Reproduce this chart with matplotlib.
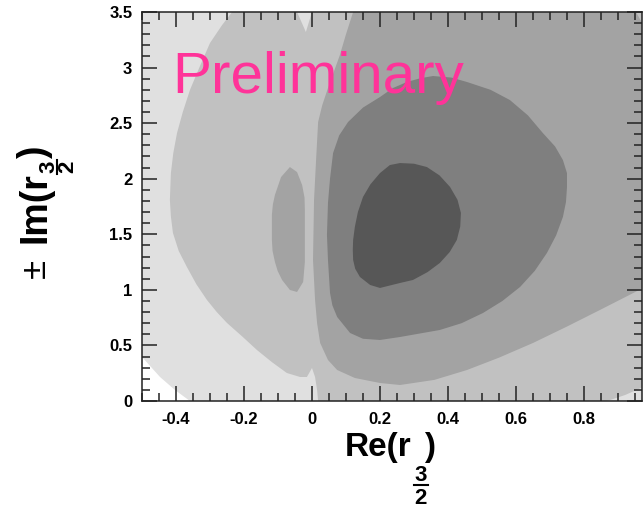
import matplotlib
matplotlib.use("Agg")
import matplotlib.pyplot as plt
from matplotlib.lines import Line2D
from matplotlib.ticker import MultipleLocator

plt.rcParams['font.family'] = ['Liberation Sans', 'DejaVu Sans']

# contour regions, (Re, Im) vertices
no_fit = [(-0.5, 0.396), (-0.447, 0.216), (-0.403, 0.099), (-0.359, 0.0), (-0.5, 0.0)]

level1 = [(-0.235, 3.5), (-0.265, 3.38), (-0.300, 3.221), (-0.330, 3.01), (-0.359, 2.798),
          (-0.380, 2.60), (-0.397, 2.411), (-0.408, 2.23), (-0.415, 2.051), (-0.418, 1.809),
          (-0.415, 1.66), (-0.409, 1.512), (-0.392, 1.35), (-0.368, 1.206), (-0.340, 1.05),
          (-0.309, 0.909), (-0.280, 0.80), (-0.250, 0.702), (-0.205, 0.58), (-0.162, 0.459),
          (-0.118, 0.35), (-0.074, 0.252), (-0.035, 0.216), (-0.015, 0.216), (0.0, 0.297),
          (0.009, 0.216), (0.015, 0.099), (0.018, 0.0), (0.868, 0.0), (0.921, 0.054),
          (0.974, 0.126), (0.974, 3.5), (0.0, 3.5), (-0.018, 3.320), (-0.044, 3.5)]

level2_island = [(-0.065, 2.105), (-0.044, 2.060), (-0.029, 1.943), (-0.022, 1.83), (-0.021, 1.719),
                 (-0.021, 1.449), (-0.021, 1.251), (-0.026, 1.071), (-0.044, 0.981), (-0.065, 0.999),
                 (-0.088, 1.089), (-0.101, 1.17), (-0.109, 1.251), (-0.116, 1.35), (-0.118, 1.449),
                 (-0.118, 1.674), (-0.115, 1.77), (-0.109, 1.854), (-0.091, 2.015)]

level2 = [(0.121, 3.5), (0.100, 3.30), (0.082, 3.113), (0.064, 2.96), (0.047, 2.816),
          (0.030, 2.66), (0.018, 2.510), (0.012, 2.168), (0.006, 1.809), (0.003, 1.269),
          (0.009, 0.909), (0.015, 0.70), (0.024, 0.522), (0.047, 0.369), (0.074, 0.279),
          (0.126, 0.207), (0.2, 0.162), (0.259, 0.144), (0.36, 0.19), (0.456, 0.279),
          (0.55, 0.39), (0.650, 0.522), (0.75, 0.67), (0.847, 0.819), (0.974, 1.017),
          (0.974, 3.383), (0.953, 3.5)]

level3 = [(0.2, 2.735), (0.238, 2.816), (0.279, 2.870), (0.320, 2.905), (0.356, 2.924),
          (0.410, 2.91), (0.456, 2.870), (0.525, 2.80), (0.582, 2.708), (0.635, 2.57),
          (0.679, 2.411), (0.715, 2.29), (0.738, 2.168), (0.750, 2.05), (0.75, 1.926),
          (0.747, 1.79), (0.738, 1.656), (0.718, 1.49), (0.691, 1.332), (0.655, 1.17),
          (0.612, 1.026), (0.560, 0.90), (0.503, 0.792), (0.440, 0.70), (0.376, 0.639),
          (0.259, 0.576), (0.2, 0.549), (0.150, 0.56), (0.112, 0.612), (0.074, 0.756),
          (0.060, 0.86), (0.053, 0.972), (0.047, 1.269), (0.044, 1.494), (0.047, 1.782),
          (0.053, 2.00), (0.062, 2.231), (0.080, 2.39), (0.106, 2.510), (0.150, 2.64)]

level4 = [(0.229, 2.123), (0.259, 2.141), (0.300, 2.135), (0.338, 2.105), (0.375, 2.03),
          (0.406, 1.926), (0.428, 1.81), (0.438, 1.692), (0.436, 1.57), (0.426, 1.449),
          (0.405, 1.34), (0.376, 1.242), (0.340, 1.16), (0.297, 1.089), (0.259, 1.062),
          (0.2, 1.017), (0.171, 1.044), (0.141, 1.116), (0.127, 1.19), (0.121, 1.269),
          (0.120, 1.36), (0.121, 1.449), (0.126, 1.566), (0.135, 1.70), (0.150, 1.836),
          (0.172, 1.95), (0.2, 2.051)]

regions = [(level1, '#c1c1c1'), (level2_island, '#a3a3a3'), (level2, '#a3a3a3'),
           (level3, '#7f7f7f'), (level4, '#575757')]

W, H = 643, 509
fig = plt.figure(figsize=(W / 100, H / 100), dpi=100)
ax = fig.add_axes([142 / W, 108 / H, 500 / W, 389 / H])
ax.set_facecolor('#e0e0e0')

ax.fill([p[0] for p in no_fit], [p[1] for p in no_fit], color='white', lw=0)
for poly, col in regions:
    ax.fill([p[0] for p in poly], [p[1] for p in poly], color=col, lw=0)

ax.set_xlim(-0.5, 0.9706)
ax.set_ylim(0, 3.5)

ax.xaxis.set_minor_locator(MultipleLocator(0.05))
ax.yaxis.set_minor_locator(MultipleLocator(0.1))
ax.set_xticks([-0.4, -0.2, 0, 0.2, 0.4, 0.6, 0.8])
ax.set_xticklabels(['-0.4', '-0.2', '0', '0.2', '0.4', '0.6', '0.8'])
ax.set_yticks([0, 0.5, 1, 1.5, 2, 2.5, 3, 3.5])
ax.set_yticklabels(['0', '0.5', '1', '1.5', '2', '2.5', '3', '3.5'])

ax.tick_params(which='both', direction='in', top=True, right=True, width=1.1, color='#222222')
ax.tick_params(which='major', length=11)
ax.tick_params(which='minor', length=5.5)
ax.tick_params(axis='x', pad=8, labelsize=12)
ax.tick_params(axis='y', pad=7, labelsize=12)
for lab in ax.get_xticklabels() + ax.get_yticklabels():
    lab.set_fontweight('bold')
for sp in ax.spines.values():
    sp.set_linewidth(1.1)
    sp.set_color('#222222')
    sp.set_zorder(5)

ax.text(-0.412, 2.771, 'Preliminary', color='#ff3399', fontsize=42, ha='left', va='baseline')

# axis titles built by hand: ROOT puts the 3/2 fraction well below the baseline
renderer = fig.canvas.get_renderer()
small = 16

t = fig.text(345 / W, 1 - 456 / H, 'Re(r', fontsize=24, weight='bold', ha='left', va='baseline')
cx = t.get_window_extent(renderer).x1 + 9
fig.text(cx / W, 1 - 481 / H, '3', fontsize=small, weight='bold', ha='center', va='baseline')
fig.text(cx / W, 1 - 504 / H, '2', fontsize=small, weight='bold', ha='center', va='baseline')
fig.add_artist(Line2D([(cx - 7) / W, (cx + 7) / W], [1 - 485 / H] * 2, transform=fig.transFigure,
                      color='black', lw=1.5))
fig.text((cx + 3) / W, 1 - 456 / H, ')', fontsize=24, weight='bold', ha='left', va='baseline')

rot = dict(rotation=90, rotation_mode='anchor', va='baseline')
fig.text(45 / W, 1 - 278 / H, '\u00b1', fontsize=25, ha='left', **rot)
t = fig.text(45 / W, 1 - 243 / H, 'Im(r', fontsize=27, weight='bold', ha='left', **rot)
cy = t.get_window_extent(renderer).y1 + 5
fig.text(54 / W, cy / H, '3', fontsize=small, weight='bold', ha='center', **rot)
fig.text(73 / W, cy / H, '2', fontsize=small, weight='bold', ha='center', **rot)
fig.add_artist(Line2D([57 / W] * 2, [(cy - 7) / H, (cy + 7) / H], transform=fig.transFigure,
                      color='black', lw=1.5))
fig.text(45 / W, (cy + 8) / H, ')', fontsize=27, weight='bold', ha='left', **rot)

plt.savefig('out.png', dpi=100)
